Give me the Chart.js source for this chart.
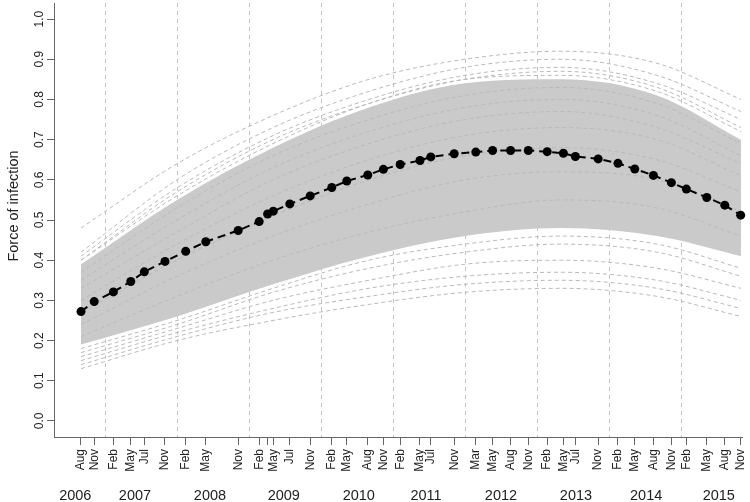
<!DOCTYPE html>
<html>
<head>
<meta charset="utf-8">
<title>Force of infection</title>
<script src="https://cdn.jsdelivr.net/npm/chart.js@4.4.1/dist/chart.umd.min.js"></script>
<style>
html, body { margin: 0; padding: 0; background: #fff; }
canvas { display: block; }
</style>
</head>
<body>
<canvas id="foi" width="750" height="502"></canvas>
<script>
// survey times in months since Jan 2006
const surveyMonths = [8.0, 10.2, 13.4, 16.3, 18.55, 22.0, 25.45, 28.8, 34.2, 37.7, 39.1, 40.05,
  42.8, 46.2, 49.8, 52.3, 55.8, 58.4, 61.2, 64.5, 66.3, 70.2, 73.8, 76.6, 79.6, 82.55,
  85.7, 88.4, 90.4, 94.2, 97.5, 100.3, 103.4, 106.4, 108.9, 112.3, 115.3, 117.95];
const monthLabels = ['Aug','Nov','Feb','May','Jul','Nov','Feb','May','Nov','Feb','','May',
  'Jul','Nov','Feb','May','Aug','Nov','Feb','May','Jul','Nov','Mar','May','Aug','Nov',
  'Feb','May','Jul','Nov','Feb','May','Aug','Nov','Feb','May','Aug','Nov'];
const foiMean = [0.272, 0.297, 0.321, 0.347, 0.371, 0.397, 0.422, 0.446, 0.474, 0.496, 0.515, 0.522,
  0.540, 0.560, 0.581, 0.597, 0.612, 0.626, 0.638, 0.648, 0.657, 0.665, 0.669, 0.673, 0.673, 0.673,
  0.670, 0.666, 0.658, 0.652, 0.641, 0.627, 0.611, 0.593, 0.577, 0.556, 0.537, 0.512];

const yearLabels = ['2006','2007','2008','2009','2010','2011','2012','2013','2014','2015'];
const yearLabelMonths = [7.05, 17.0, 29.5, 41.8, 54.3, 65.5, 78.0, 90.5, 102.2, 114.3];
const yearStartMonths = [12, 24, 36, 48, 60, 72, 84, 96, 108];

const yTicks = [0, 0.1, 0.2, 0.3, 0.4, 0.5, 0.6, 0.7, 0.8, 0.9, 1.0];
const yTickLabels = ['0.0','0.1','0.2','0.3','0.4','0.5','0.6','0.7','0.8','0.9','1.0'];

// posterior sample curves, read at a few times
const knotMonths = [8, 24, 40, 56, 72, 88, 104, 118];
const coreLow  = [0.19, 0.26, 0.34, 0.41, 0.46, 0.48, 0.46, 0.41];
const coreHigh = [0.39, 0.55, 0.68, 0.78, 0.84, 0.85, 0.81, 0.70];
const sampleCurves = [
  [0.48, 0.64, 0.76, 0.85, 0.90, 0.92, 0.89, 0.80],
  [0.42, 0.60, 0.73, 0.82, 0.88, 0.90, 0.86, 0.77],
  [0.41, 0.58, 0.71, 0.80, 0.86, 0.88, 0.84, 0.75],
  [0.40, 0.57, 0.70, 0.79, 0.85, 0.87, 0.83, 0.73],
  [0.40, 0.56, 0.69, 0.79, 0.85, 0.86, 0.82, 0.72],
  [0.37, 0.53, 0.66, 0.75, 0.81, 0.83, 0.79, 0.69],
  [0.35, 0.50, 0.63, 0.72, 0.78, 0.80, 0.76, 0.66],
  [0.33, 0.47, 0.60, 0.69, 0.75, 0.77, 0.73, 0.64],
  [0.30, 0.44, 0.56, 0.65, 0.71, 0.73, 0.70, 0.61],
  [0.27, 0.40, 0.51, 0.60, 0.66, 0.68, 0.65, 0.57],
  [0.24, 0.36, 0.46, 0.54, 0.60, 0.62, 0.60, 0.52],
  [0.21, 0.31, 0.40, 0.47, 0.52, 0.55, 0.53, 0.46],
  [0.18, 0.25, 0.33, 0.40, 0.44, 0.46, 0.44, 0.38],
  [0.17, 0.24, 0.32, 0.38, 0.42, 0.44, 0.42, 0.36],
  [0.16, 0.23, 0.30, 0.35, 0.39, 0.40, 0.38, 0.33],
  [0.15, 0.22, 0.28, 0.33, 0.36, 0.37, 0.35, 0.30],
  [0.14, 0.21, 0.27, 0.31, 0.34, 0.35, 0.33, 0.28],
  [0.13, 0.20, 0.25, 0.29, 0.32, 0.33, 0.31, 0.26]
];

const FONT = '"Liberation Sans", Arial, sans-serif';
const toXY = (xs, ys) => xs.map((m, i) => ({ x: m, y: ys[i] }));

const datasets = [];
datasets.push({
  data: toXY(surveyMonths, foiMean),
  borderColor: '#000', borderWidth: 2, borderDash: [8, 5],
  pointRadius: 4.5, pointBackgroundColor: '#000', pointBorderWidth: 0,
  tension: 0, order: 0, clip: false
});
sampleCurves.forEach(c => {
  datasets.push({
    data: toXY(knotMonths, c),
    borderColor: '#b9b9b9', borderWidth: 1, borderDash: [4, 3],
    pointRadius: 0, cubicInterpolationMode: 'monotone', fill: false, order: 2
  });
});
datasets.push({
  data: toXY(knotMonths, coreLow),
  borderColor: 'rgba(0,0,0,0)', borderWidth: 0, pointRadius: 0,
  cubicInterpolationMode: 'monotone', fill: false, order: 3
});
datasets.push({
  data: toXY(knotMonths, coreHigh),
  borderColor: 'rgba(0,0,0,0)', borderWidth: 0, pointRadius: 0,
  backgroundColor: '#cacaca',
  cubicInterpolationMode: 'monotone', fill: '-1', order: 3
});

const yearLines = {
  id: 'yearLines',
  beforeDatasetsDraw(chart) {
    const { ctx, chartArea, scales: { x } } = chart;
    ctx.save();
    ctx.strokeStyle = '#c4c4c4';
    ctx.lineWidth = 1;
    ctx.setLineDash([4, 4]);
    yearStartMonths.forEach(m => {
      const px = Math.round(x.getPixelForValue(m)) + 0.5;
      ctx.beginPath();
      ctx.moveTo(px, chartArea.top);
      ctx.lineTo(px, chartArea.bottom);
      ctx.stroke();
    });
    ctx.restore();
  }
};

const extraText = {
  id: 'extraText',
  afterDraw(chart) {
    const { ctx, scales: { x, y } } = chart;
    ctx.save();
    ctx.fillStyle = '#222';
    ctx.textAlign = 'center';
    ctx.textBaseline = 'middle';
    ctx.font = '12px ' + FONT;
    yTicks.forEach((v, i) => {
      ctx.save();
      ctx.translate(40, y.getPixelForValue(v));
      ctx.rotate(-Math.PI / 2);
      ctx.fillText(yTickLabels[i], 0, 0);
      ctx.restore();
    });
    ctx.font = '14.5px ' + FONT;
    ctx.save();
    ctx.translate(14, 206);
    ctx.rotate(-Math.PI / 2);
    ctx.fillText('Force of infection', 0, 0);
    ctx.restore();
    ctx.textBaseline = 'alphabetic';
    yearLabelMonths.forEach((m, i) => {
      ctx.fillText(yearLabels[i], x.getPixelForValue(m), 500);
    });
    ctx.restore();
  }
};

new Chart(document.getElementById('foi'), {
  type: 'line',
  data: { datasets: datasets },
  options: {
    responsive: false,
    animation: false,
    layout: { autoPadding: false, padding: { top: 3, right: 8, left: 0, bottom: 0 } },
    plugins: { legend: { display: false }, tooltip: { enabled: false } },
    scales: {
      x: {
        type: 'linear', min: 3.5, max: 118.17,
        border: { color: '#666', width: 1 },
        grid: { drawOnChartArea: false, tickLength: 8, tickColor: '#666' },
        ticks: {
          autoSkip: false, minRotation: 90, maxRotation: 90, padding: 4,
          color: '#222', font: { size: 12, family: FONT },
          callback: (v, i) => monthLabels[i]
        },
        afterBuildTicks: s => { s.ticks = surveyMonths.map(v => ({ value: v })); },
        afterFit: s => { s.height = 65; s.paddingLeft = 0; s.paddingRight = 0; }
      },
      y: {
        type: 'linear', min: -0.04, max: 1.04,
        border: { color: '#666', width: 1 },
        grid: { drawOnChartArea: false, tickLength: 7, tickColor: '#666' },
        ticks: { display: false },
        afterBuildTicks: s => { s.ticks = yTicks.map(v => ({ value: v })); },
        afterFit: s => { s.width = 54; s.paddingTop = 0; s.paddingBottom = 0; }
      }
    }
  },
  plugins: [yearLines, extraText]
});
</script>
</body>
</html>
